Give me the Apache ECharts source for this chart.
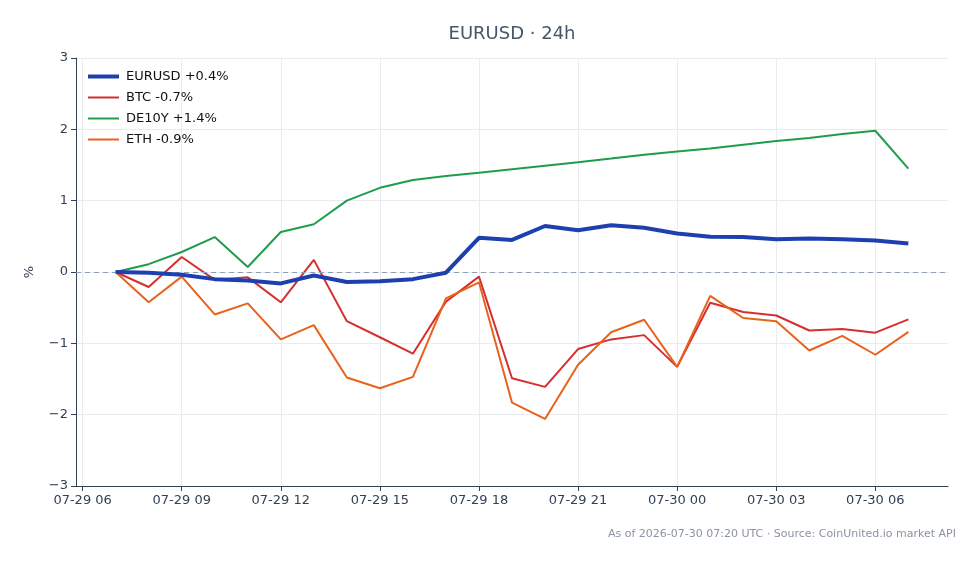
<!DOCTYPE html>
<html>
<head>
<meta charset="utf-8">
<title>EURUSD 24h</title>
<script src="https://cdn.jsdelivr.net/npm/echarts@6/dist/echarts.min.js"></script>
<style>
    html, body {margin: 0; padding: 0; background: #fff;}
    #chart {width: 980px; height: 564px;}
</style>
</head>
<body>
<div id="chart"></div>
<script>
// hours since 07-29 00:00 UTC
const hours = [7, 8, 9, 10, 11, 12, 13, 14, 15, 16, 17, 18, 19, 20, 21, 22, 23, 24, 25, 26, 27, 28, 29, 30, 31];

const eurusd = [0, -0.01, -0.04, -0.10, -0.12, -0.16, -0.05, -0.14, -0.13, -0.10, -0.01, 0.48, 0.45, 0.645, 0.585, 0.655, 0.62, 0.54, 0.495, 0.49, 0.46, 0.47, 0.46, 0.44, 0.40];
const btc = [0, -0.21, 0.21, -0.11, -0.075, -0.425, 0.17, -0.69, -0.915, -1.145, -0.415, -0.065, -1.49, -1.61, -1.08, -0.945, -0.885, -1.33, -0.43, -0.56, -0.61, -0.82, -0.80, -0.85, -0.665];
const de10y = [0, 0.11, 0.28, 0.49, 0.07, 0.56, 0.67, 1.0, 1.18, 1.29, 1.345, 1.39, 1.44, 1.49, 1.54, 1.59, 1.645, 1.69, 1.73, 1.785, 1.835, 1.88, 1.935, 1.98, 1.45];
const eth = [0, -0.425, -0.065, -0.595, -0.44, -0.945, -0.745, -1.48, -1.63, -1.47, -0.37, -0.145, -1.83, -2.06, -1.30, -0.845, -0.67, -1.33, -0.335, -0.645, -0.69, -1.10, -0.895, -1.16, -0.84];

const seriesNames = ['EURUSD +0.4%', 'BTC -0.7%', 'DE10Y +1.4%', 'ETH -0.9%'];
const seriesColors = ['#1e40af', '#d62f2f', '#1f9d4c', '#e8621c'];
const lineWidths = [4, 2, 2, 2];

const tickHours = [6, 9, 12, 15, 18, 21, 24, 27, 30];
const tickLabels = ['07-29 06', '07-29 09', '07-29 12', '07-29 15', '07-29 18', '07-29 21', '07-30 00', '07-30 03', '07-30 06'];

const axisColor = '#334155';
const font = 'DejaVu Sans';

function pairs(values) {
    return values.map((v, i) => [hours[i], v]);
}

const allValues = [eurusd, btc, de10y, eth];

const series = allValues.map((values, idx) => ({
    name: seriesNames[idx],
    type: 'line',
    data: pairs(values),
    symbol: 'none',
    z: idx === 0 ? 5 : 3,
    lineStyle: {width: lineWidths[idx], color: seriesColors[idx]},
    itemStyle: {color: seriesColors[idx]}
}));

series[0].markLine = {
    silent: true,
    symbol: 'none',
    label: {show: false},
    lineStyle: {color: '#8f9db5', type: [5, 4], width: 1},
    data: [{yAxis: 0}]
};

const option = {
    animation: false,
    backgroundColor: '#fff',
    title: {
        text: 'EURUSD · 24h',
        left: 507,
        textAlign: 'center',
        top: 20,
        textStyle: {fontFamily: font, fontSize: 18, fontWeight: 'normal', color: '#475569'}
    },
    legend: {
        orient: 'vertical',
        left: 81,
        top: 65,
        itemWidth: 31,
        itemHeight: 13,
        itemGap: 8,
        itemStyle: {opacity: 0},
        textStyle: {fontFamily: font, fontSize: 13, color: '#111', padding: [0, 0, 0, 2]},
        data: seriesNames.map((n, i) => ({name: n, lineStyle: {width: lineWidths[i]}}))
    },
    grid: {left: 76, right: 32, top: 58, bottom: 78},
    xAxis: {
        type: 'value',
        min: 5.8,
        max: 32.2,
        axisLine: {show: true, onZero: false, lineStyle: {color: axisColor}},
        axisTick: {show: true, length: 5, customValues: tickHours, lineStyle: {color: axisColor}},
        axisLabel: {
            customValues: tickHours,
            fontFamily: font,
            fontSize: 13,
            color: axisColor,
            margin: 8,
            formatter: v => tickLabels[tickHours.indexOf(Math.round(v))] || ''
        },
        splitLine: {show: true, lineStyle: {color: '#e8ebf0', width: 1}}
    },
    yAxis: {
        type: 'value',
        min: -3,
        max: 3,
        interval: 1,
        name: '%',
        nameLocation: 'middle',
        nameGap: 40,
        nameRotate: 90,
        nameTextStyle: {fontFamily: font, fontSize: 13, color: axisColor},
        axisLine: {show: true, lineStyle: {color: axisColor}},
        axisTick: {show: true, length: 5, lineStyle: {color: axisColor}},
        axisLabel: {
            fontFamily: font,
            fontSize: 13,
            color: axisColor,
            margin: 8,
            formatter: v => v < 0 ? '\u2212' + Math.abs(v) : String(v)
        },
        splitLine: {show: true, lineStyle: {color: '#e8ebf0', width: 1}}
    },
    graphic: [{
        type: 'text',
        right: 24,
        top: 529,
        style: {
            text: 'As of 2026-07-30 07:20 UTC · Source: CoinUnited.io market API',
            fontFamily: font,
            fontSize: 11,
            fill: '#8a94a3'
        }
    }],
    series: series
};

const myChart = echarts.init(document.getElementById('chart'));
myChart.setOption(option);
</script>
</body>
</html>
